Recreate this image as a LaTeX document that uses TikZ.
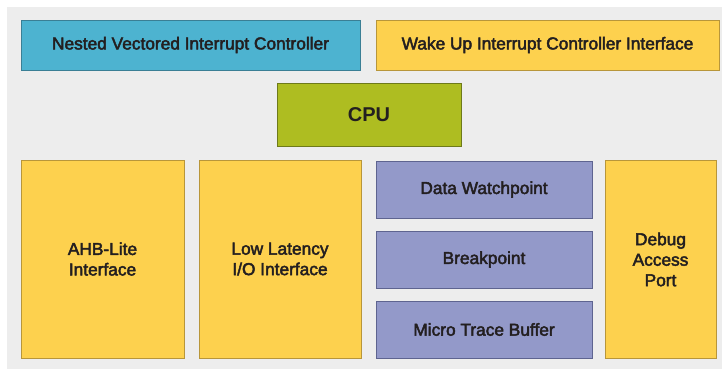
\documentclass[tikz,border=0pt]{standalone}
\usepackage{fontspec}
\setmainfont{Liberation Sans}
\usetikzlibrary{shadows}
\definecolor{bggray}{HTML}{EDEDED}
\definecolor{tealbox}{HTML}{4DB3D0}
\definecolor{tealedge}{HTML}{3A7F95}
\definecolor{yelbox}{HTML}{FDD14E}
\definecolor{yeledge}{HTML}{B8963A}
\definecolor{grnbox}{HTML}{AEBD21}
\definecolor{grnedge}{HTML}{6E7A1A}
\definecolor{purbox}{HTML}{9399C9}
\definecolor{puredge}{HTML}{5E6490}
\definecolor{txt}{HTML}{231F20}
\newcommand\embtext[1]{\special{pdf:literal direct 2 Tr 0.45 w}#1\special{pdf:literal direct 0 Tr}}
\tikzset{
  blk/.style={rectangle, inner sep=0pt, line width=0.8pt, text=txt, align=center,
    font=\fontsize{17.3}{20.5}\selectfont,
    drop shadow={shadow xshift=0.8pt, shadow yshift=-0.8pt, fill=black!30, opacity=1}},
  tealblk/.style={blk, fill=tealbox, draw=tealedge},
  yelblk/.style={blk, fill=yelbox, draw=yeledge},
  grnblk/.style={blk, fill=grnbox, draw=grnedge},
  purblk/.style={blk, fill=purbox, draw=puredge},
}
\begin{document}
\begin{tikzpicture}[x=1pt,y=-1pt]
\useasboundingbox (0,0) rectangle (722,369);
\fill[white] (0,0) rectangle (722,369);
\fill[bggray] (7,7) rectangle (722,369);
\node[tealblk, minimum width=339pt, minimum height=50pt] (nvic) at (190.5,45) {\embtext{Nested Vectored Interrupt Controller}};
\node[yelblk, minimum width=343pt, minimum height=50pt] (wic) at (547.5,45) {\embtext{Wake Up Interrupt Controller Interface}};
\node[grnblk, minimum width=184pt, minimum height=63pt, font=\bfseries\fontsize{20}{24}\selectfont] (cpu) at (369,114.5) {CPU};
\node[yelblk, minimum width=163pt, minimum height=198pt] (ahb) at (102.5,259) {\embtext{AHB-Lite}\\\embtext{Interface}};
\node[yelblk, minimum width=162pt, minimum height=198pt] (llio) at (280,259) {\embtext{Low Latency}\\\embtext{I/O Interface}};
\node[purblk, minimum width=216pt, minimum height=57pt] (dw) at (484,189.5) {\embtext{Data Watchpoint}};
\node[purblk, minimum width=216pt, minimum height=57pt] (bp) at (484,259.5) {\embtext{Breakpoint}};
\node[purblk, minimum width=216pt, minimum height=57pt] (mtb) at (484,329.5) {\embtext{Micro Trace Buffer}};
\node[yelblk, minimum width=111pt, minimum height=198pt] (dap) at (660.5,259.5) {\embtext{Debug}\\\embtext{Access}\\\embtext{Port}};
\end{tikzpicture}
\end{document}
